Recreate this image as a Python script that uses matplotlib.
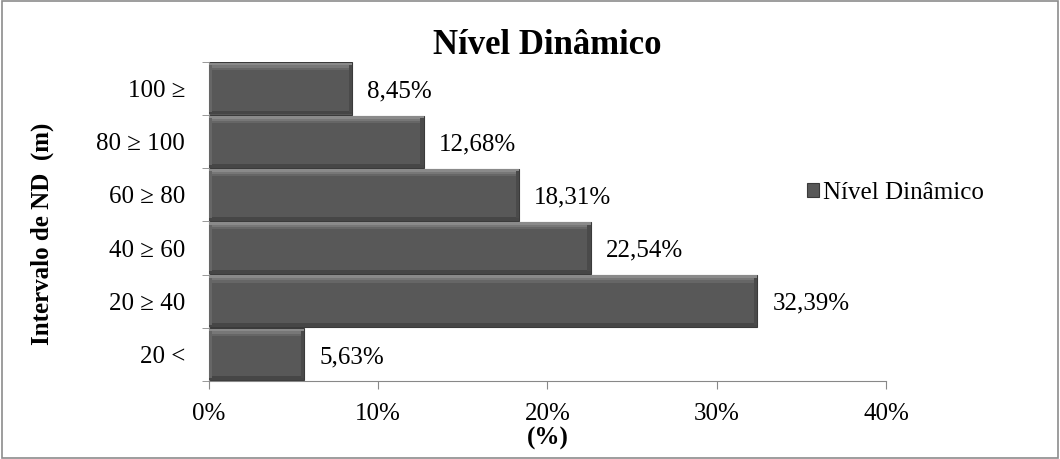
import matplotlib.pyplot as plt
from matplotlib.patches import Rectangle
from matplotlib.ticker import FuncFormatter

# Intervalos de nível dinâmico (m) e percentual de poços em cada um
intervalos = ['20 <', '20 ≥ 40', '40 ≥ 60', '60 ≥ 80', '80 ≥ 100', '100 ≥']
percentuais = [5.63, 32.39, 22.54, 18.31, 12.68, 8.45]
xticks = [0, 10, 20, 30, 40]

plt.rcParams['font.family'] = ['Liberation Serif', 'DejaVu Serif']

fig = plt.figure(figsize=(10.6, 4.59), dpi=100)
ax = fig.add_axes([0.197, 0.170, 0.639, 0.695])

ypos = list(range(len(intervalos)))
h = 0.98

# barra principal
bars = ax.barh(ypos, percentuais, height=h, color='#585858',
               edgecolor='#3a3a3a', linewidth=0.8, label='Nível Dinâmico',
               zorder=2)
# efeito de relevo: faixas claras no topo, sombra na base e na direita
for off, hh, c in [(0.03, 0.05, '#8a8a8a'), (0.08, 0.05, '#777777'),
                   (0.12, 0.04, '#666666')]:
    ax.barh([y + h / 2 - off for y in ypos], percentuais, height=hh,
            color=c, linewidth=0, zorder=3)
ax.barh([y - h / 2 + 0.04 for y in ypos], percentuais, height=0.07,
        color='#464646', linewidth=0, zorder=3)
ax.barh(ypos, [0.18] * len(ypos), left=[v - 0.18 for v in percentuais],
        height=h * 0.9, color='#4a4a4a', linewidth=0, zorder=3)
ax.barh(ypos, [0.15] * len(ypos), left=[0.03] * len(ypos),
        height=h * 0.9, color='#666666', linewidth=0, zorder=3)

for y, v in zip(ypos, percentuais):
    ax.text(v + 0.9, y - 0.05, f'{v:.2f}%'.replace('.', ','), va='center',
            ha='left', fontsize=18)

ax.set_xlim(0, 40)
ax.set_ylim(-0.5, len(intervalos) - 0.5)
ax.set_xticks(xticks)
ax.xaxis.set_major_formatter(FuncFormatter(lambda x, p: f'{x:.0f}%'))
ax.set_yticks(ypos)
ax.set_yticklabels(intervalos)
ax.set_yticks([y - 0.5 for y in range(len(intervalos) + 1)], minor=True)
ax.tick_params(axis='y', which='major', length=0, labelsize=18, pad=17)
ax.tick_params(axis='y', which='minor', length=5, color='#888888')
ax.tick_params(axis='x', length=6, color='#888888', labelsize=18, pad=10)

for s in ['top', 'right']:
    ax.spines[s].set_visible(False)
for s in ['left', 'bottom']:
    ax.spines[s].set_color('#888888')

ax.set_title('Nível Dinâmico', fontsize=25, fontweight='bold', pad=4)
ax.set_xlabel('(%)', fontsize=18, fontweight='bold')
ax.xaxis.set_label_coords(0.5, -0.145)
ax.set_ylabel('Intervalo de ND  (m)', fontsize=18, fontweight='bold')
ax.yaxis.set_label_coords(-0.229, 0.46)

ax.legend(handles=[bars], loc='center left', bbox_to_anchor=(0.868, 0.59),
          frameon=False, fontsize=18, handlelength=0.5, handleheight=0.5,
          handletextpad=0.15, borderaxespad=0.0)

# moldura externa do gráfico
fig.patches.append(Rectangle((0.002, 0.003), 0.996, 0.994,
                             transform=fig.transFigure, fill=False,
                             edgecolor='#8c8c8c', linewidth=1.2))

fig.savefig('out.png', dpi=100)
